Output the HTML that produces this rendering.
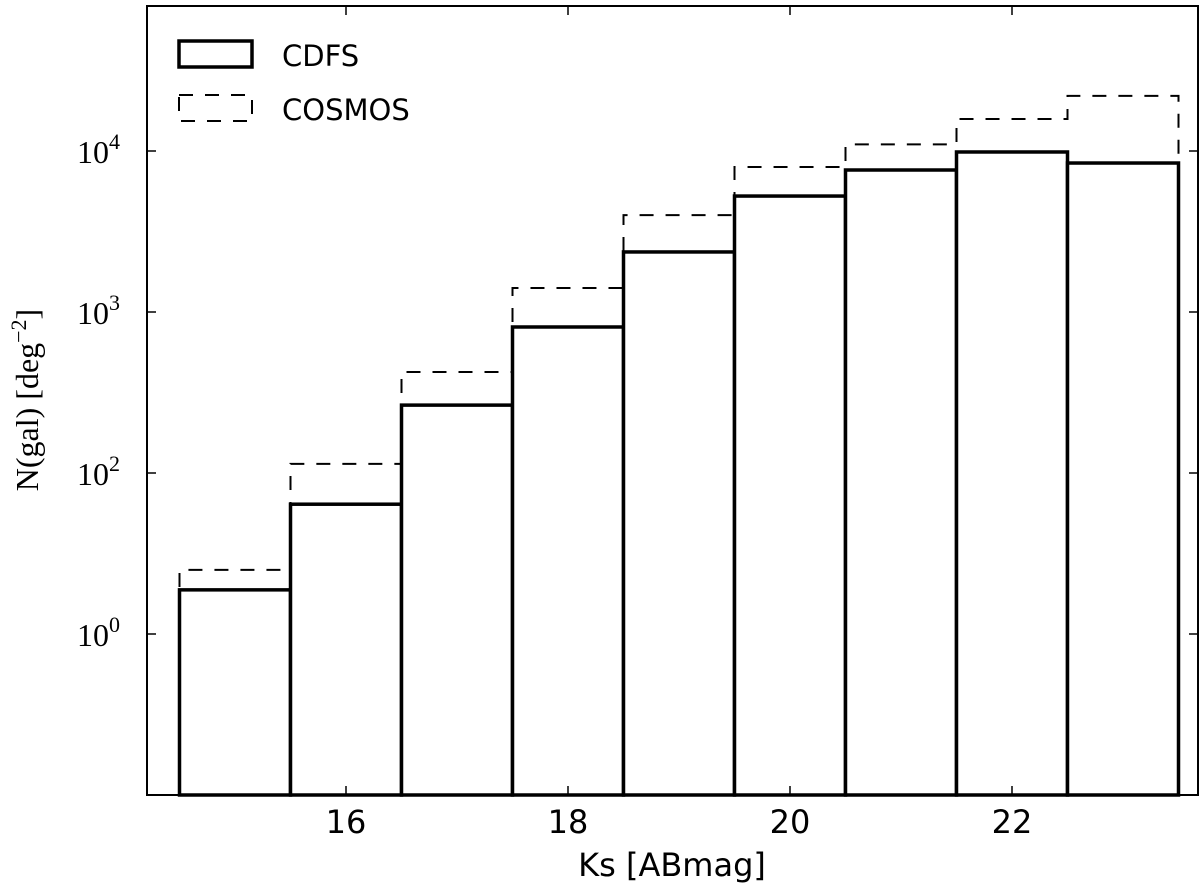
<!DOCTYPE html>
<html><head><meta charset="utf-8"><style>
body{margin:0;background:#fff}
svg text{fill:#000}
</style></head><body>
<svg id="chart" width="1200" height="889" xmlns="http://www.w3.org/2000/svg">
<g id="marks"></g>
<rect x="147" y="6" width="1051" height="789" fill="none" stroke="#000" stroke-width="2"/>
<g id="axes"></g>
<g>
<rect x="179" y="41" width="73" height="26" fill="none" stroke="#000" stroke-width="3.5"/>
<text x="282" y="66" font-family="DejaVu Sans, sans-serif" font-size="29">CDFS</text>
<rect x="179" y="95" width="73" height="26" fill="none" stroke="#000" stroke-width="2" stroke-dasharray="14,12"/>
<text x="282" y="120" font-family="DejaVu Sans, sans-serif" font-size="29">COSMOS</text>
</g>
<text x="672" y="876" text-anchor="middle" font-family="DejaVu Sans, sans-serif" font-size="32">Ks [ABmag]</text>
<text transform="translate(38,400) rotate(-90)" text-anchor="middle" font-family="Liberation Serif, serif" font-size="32">N(gal)  [deg<tspan dy="-12" font-size="22">−2</tspan><tspan dy="12">]</tspan></text>
</svg>
<script>
const binEdges=[14.5,15.5,16.5,17.5,18.5,19.5,20.5,21.5,22.5,23.5];
const cdfsValues=[18.8,64,264,807,2360,5250,7620,9860,8420];
const cosmosValues=[25,114,424,1410,4000,7950,11000,15800,22000];
const xTicks=[16,18,20,22];
const yTickExps=[1,2,3,4];
const yTickLabels=["0","2","3","4"];
const NS="http://www.w3.org/2000/svg";
function xs(v){return 346+(v-16)*111;}
function ys(v){return 151+(4-Math.log10(v))*161;}
const bottom=795;
const marks=document.getElementById('marks');
const axes=document.getElementById('axes');
function mk(tag,attrs,parent){const e=document.createElementNS(NS,tag);for(const k in attrs)e.setAttribute(k,attrs[k]);parent.appendChild(e);return e;}
// cosmos step
let d="M"+xs(binEdges[0])+","+bottom;
cosmosValues.forEach((v,i)=>{d+=" L"+xs(binEdges[i])+","+ys(v)+" L"+xs(binEdges[i+1])+","+ys(v);});
d+=" L"+xs(binEdges[binEdges.length-1])+","+bottom;
const cp=mk('path',{d:d,fill:"none",stroke:"#000","stroke-width":2,"stroke-dasharray":"14,12"},marks);


cdfsValues.forEach((v,i)=>{
 const x0=xs(binEdges[i]),x1=xs(binEdges[i+1]),y=ys(v);
 const r=mk('rect',{x:x0,y:y,width:x1-x0,height:bottom-y,fill:"#fff",stroke:"#000","stroke-width":3.5},marks);
 
 
});
xTicks.forEach(t=>{
 const x=xs(t);
 mk('line',{x1:x,x2:x,y1:bottom,y2:bottom-9,stroke:"#000","stroke-width":1.5},axes);
 mk('line',{x1:x,x2:x,y1:6,y2:15,stroke:"#000","stroke-width":1.5},axes);
 const tx=mk('text',{x:x,y:833,"text-anchor":"middle","font-family":"DejaVu Sans, sans-serif","font-size":32},axes);
 tx.textContent=t;
 
 
});
yTickExps.forEach((e,i)=>{
 const y=ys(Math.pow(10,e));
 mk('line',{x1:147,x2:156,y1:y,y2:y,stroke:"#000","stroke-width":1.5},axes);
 mk('line',{x1:1198,x2:1189,y1:y,y2:y,stroke:"#000","stroke-width":1.5},axes);
 const tx=mk('text',{x:120,y:y+12,"text-anchor":"end","font-family":"Liberation Serif, serif","font-size":32},axes);
 tx.innerHTML='10<tspan dy="-14" font-size="22">'+yTickLabels[i]+'</tspan>';
 
 
});
</script>
</body></html>
